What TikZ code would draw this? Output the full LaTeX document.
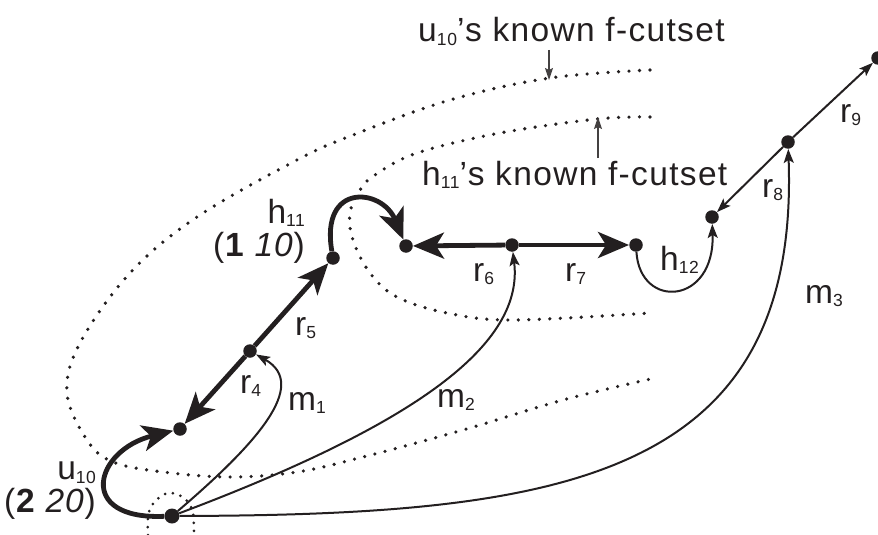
\documentclass[tikz,border=0pt]{standalone}
\usepackage{fontspec}
\setmainfont{Liberation Sans}[LetterSpace=2.5]
\usetikzlibrary{arrows.meta}
\definecolor{ink}{RGB}{35,31,32}
\newcommand\sbs[1]{\raisebox{-3.5pt}{\fontsize{17.5pt}{17.5pt}\selectfont #1}}
\begin{document}
\begin{tikzpicture}[x=1pt,y=-1pt,line join=round,
  dot/.style={circle,fill=ink,draw=none,inner sep=0pt,minimum size=13.5pt},
  lbl/.style={anchor=base west,inner sep=0pt,text=ink,font=\fontsize{33.5pt}{36pt}\selectfont},
  pair/.style={anchor=north east,inner sep=0pt,text=ink,align=right,font=\fontsize{33.5pt}{33pt}\selectfont},
  heavy/.style={draw=ink,line width=4.8pt,-{Stealth[length=31pt,width=26pt,inset=8pt]}},
  light/.style={draw=ink,line width=2pt,-{Stealth[length=14pt,width=10pt,inset=3pt]}},
  pointer/.style={draw=ink!85,line width=1.3pt,-{Stealth[length=12pt,width=8pt,inset=2pt]}},
  cut/.style={draw=ink,line width=3.6pt,line cap=round,dash pattern=on 0pt off 10.5pt}]
\useasboundingbox (0,0) rectangle (878,535);

% cutsets
\draw[cut] plot[smooth,tension=0.6] coordinates {(650,70) (550,78) (450,100) (353,135) (297,160) (197,217) (130,273) (80,343) (67,393) (87,440) (113,462) (163,472) (230,477) (297,472) (363,457) (463,430) (563,400) (655,378)};
\draw[cut] plot[smooth,tension=0.6] coordinates {(650,117) (597,119) (500,133) (417,153) (375,175) (360,190) (350,213) (353,240) (370,273) (397,297) (447,313) (513,320) (650,313)};
\draw[cut,line width=3pt,dash pattern=on 0pt off 8pt] plot[smooth,tension=0.6] coordinates {(148,535) (148,518) (152,505) (163,495) (172,493) (181,496) (188,502) (193,513) (194,535)};

% nodes
\node[dot,minimum size=15pt] (A) at (172,516) {};
\node[dot] (B) at (180,429) {};
\node[dot] (C) at (250,351) {};
\node[dot] (D) at (333,258) {};
\node[dot] (E) at (406,246) {};
\node[dot] (F) at (512,245) {};
\node[dot] (G) at (636,245) {};
\node[dot] (H) at (712,217) {};
\node[dot] (I) at (788,142) {};
\node[dot] (J) at (878,58) {};

% heavy edges
\draw[heavy] (A) .. controls (75,520) and (95,450) .. (B);
\draw[heavy] (C) -- (B);
\draw[heavy] (C) -- (D);
\draw[heavy] (D) .. controls (320,182) and (382,188) .. (E);
\draw[heavy] (F) -- (E);
\draw[heavy] (F) -- (G);

% light edges
\draw[light] (G) .. controls (640,310) and (715,305) .. (H);
\draw[light] (I) -- (H);
\draw[light] (I) -- (J);
\draw[light] (A) .. controls (255,445) and (310,385) .. (C);
\draw[light] (A) .. controls (400,430) and (525,350) .. (F);
\draw[light] (A) .. controls (560,515) and (800,480) .. (I);

% labels
\node[lbl] (tu) at (418,42) {\addfontfeature{LetterSpace=4}u\sbs{10}’s known f-cutset};
\node[lbl] (th) at (422,185) {\addfontfeature{LetterSpace=4}h\sbs{11}’s known f-cutset};
\coordinate (pu0) at (549,50);
\coordinate (pu1) at (549,80);
\coordinate (ph0) at (598,158);
\coordinate (ph1) at (598,117);
\draw[pointer] (pu0) -- (pu1);
\draw[pointer] (ph0) -- (ph1);

\node[pair] (lh11) at (305,199) {h\sbs{11}\\(\textbf{1} \textit{10})};
\node[pair] (lu10) at (96,462) {u\sbs{10}\\(\textbf{2} \textit{20})};
\node[lbl] (lr4) at (240,393) {r\sbs{4}};
\node[lbl] (lr5) at (295,335) {r\sbs{5}};
\node[lbl] (lm1) at (288,410) {m\sbs{1}};
\node[lbl] (lm2) at (437,407) {m\sbs{2}};
\node[lbl] (lr6) at (473,281) {r\sbs{6}};
\node[lbl] (lr7) at (565,281) {r\sbs{7}};
\node[lbl] (lh12) at (660,270) {h\sbs{12}};
\node[lbl] (lr8) at (762,197) {r\sbs{8}};
\node[lbl] (lr9) at (840,122) {r\sbs{9}};
\node[lbl] (lm3) at (805,303) {m\sbs{3}};
\end{tikzpicture}
\end{document}
